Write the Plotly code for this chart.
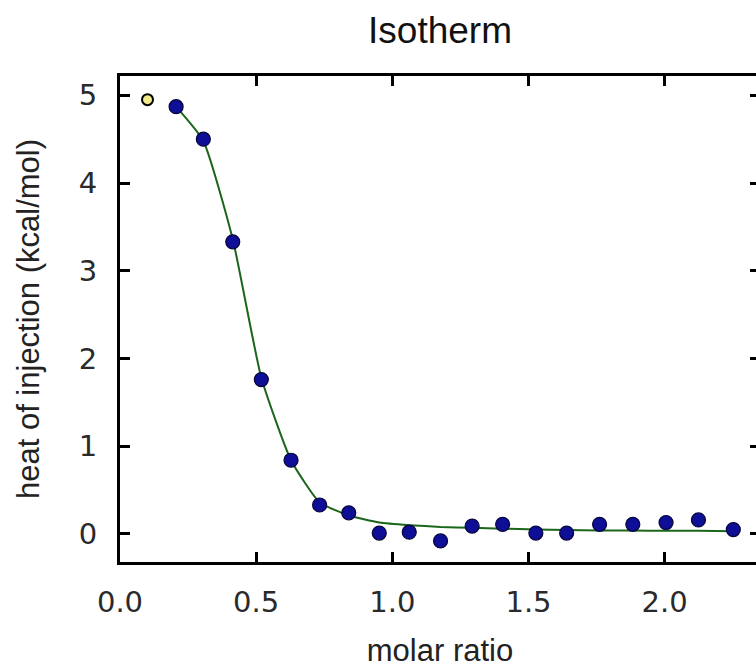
import plotly.graph_objects as go

# data
molar_ratio = [0.206, 0.306, 0.414, 0.519, 0.628, 0.733, 0.840, 0.952, 1.062, 1.177,
               1.293, 1.405, 1.527, 1.640, 1.761, 1.883, 2.005, 2.124, 2.252]
heat = [4.87, 4.50, 3.33, 1.76, 0.84, 0.33, 0.24, 0.01, 0.02, -0.08,
        0.09, 0.11, 0.01, 0.01, 0.11, 0.11, 0.13, 0.16, 0.05]
fit_heat = [4.87, 4.48, 3.36, 1.78, 0.84, 0.36, 0.21, 0.13, 0.10, 0.08,
            0.07, 0.06, 0.05, 0.045, 0.04, 0.04, 0.035, 0.035, 0.03]
excluded_x = [0.101]
excluded_y = [4.95]

x_ticks = [0.0, 0.5, 1.0, 1.5, 2.0]
x_ticktext = ["0.0", "0.5", "1.0", "1.5", "2.0"]
y_ticks = [0, 1, 2, 3, 4, 5]

fig = go.Figure()
fig.add_trace(go.Scatter(x=molar_ratio, y=fit_heat, mode="lines",
                         line=dict(color="#1a661a", width=2, shape="spline", smoothing=0.5),
                         hoverinfo="skip", showlegend=False))
fig.add_trace(go.Scatter(x=molar_ratio, y=heat, mode="markers",
                         marker=dict(color="#0e0e96", size=14,
                                     line=dict(color="#05053a", width=1.2)),
                         showlegend=False))
fig.add_trace(go.Scatter(x=excluded_x, y=excluded_y, mode="markers",
                         marker=dict(color="#f3ea8a", size=11,
                                     line=dict(color="#000000", width=2)),
                         showlegend=False))

axis_common = dict(showline=True, linecolor="black", linewidth=3, mirror="ticks",
                   ticks="inside", ticklen=10, tickwidth=2.5, tickcolor="black",
                   showgrid=False, zeroline=False,
                   tickfont=dict(family="DejaVu Sans", size=29, color="#2a2a2a"))

fig.update_xaxes(range=[0, 2.35], tickvals=x_ticks, ticktext=x_ticktext,
                 title=dict(text="molar ratio", standoff=25,
                            font=dict(family="Liberation Sans", size=31, color="#222222")),
                 ticklabelstandoff=12, **axis_common)
fig.update_yaxes(range=[-0.32, 5.22], tickvals=y_ticks,
                 title=dict(text="heat of injection (kcal/mol)", standoff=30,
                            font=dict(family="Liberation Sans", size=31, color="#222222")),
                 ticklabelstandoff=14, **axis_common)

fig.update_layout(
    width=766, height=668,
    margin=dict(l=120, r=3, t=76, b=106),
    paper_bgcolor="white", plot_bgcolor="white",
    title=dict(text="Isotherm", x=0.5, xref="paper", xanchor="center",
               y=0.955, yanchor="middle",
               font=dict(family="Liberation Sans", size=37, color="#111111")),
)

fig.write_html("out.html",
               post_script="document.documentElement.style.overflow='hidden';document.body.style.overflow='hidden';")
